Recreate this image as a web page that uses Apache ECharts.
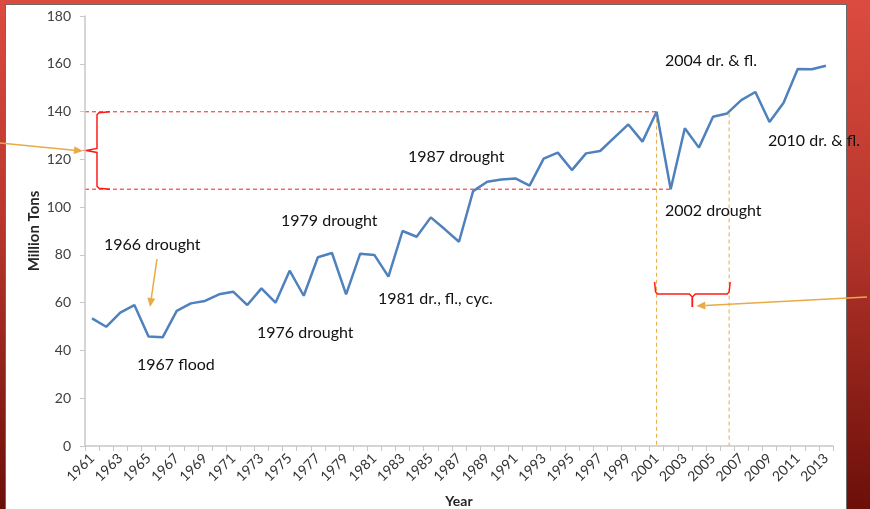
<!DOCTYPE html>
<html>
<head>
<meta charset="utf-8">
<script src="https://cdn.jsdelivr.net/npm/echarts@6/dist/echarts.min.js"></script>
<style>
    html, body { margin: 0; padding: 0; }
    body {
        width: 870px; height: 509px; overflow: hidden; position: relative;
        background: linear-gradient(to bottom, #dc4b3f 0%, #b7362c 45%, #6c0f09 100%);
    }
    #panel {
        position: absolute; left: 5px; top: 4px; width: 840px; height: 510px;
        background: #fff; border: 1px solid #6b6b6b;
    }
    #chart { position: absolute; left: 0; top: 0; width: 870px; height: 509px; }
</style>
</head>
<body>
<div id="panel"></div>
<div id="chart"></div>
<script>
const years = [
    '1961', '1962', '1963', '1964', '1965', '1966', '1967', '1968', '1969', '1970',
    '1971', '1972', '1973', '1974', '1975', '1976', '1977', '1978', '1979', '1980',
    '1981', '1982', '1983', '1984', '1985', '1986', '1987', '1988', '1989', '1990',
    '1991', '1992', '1993', '1994', '1995', '1996', '1997', '1998', '1999', '2000',
    '2001', '2002', '2003', '2004', '2005', '2006', '2007', '2008', '2009', '2010',
    '2011', '2012', '2013'
];
const production = [
    53.4, 49.9, 55.8, 59.0, 45.8, 45.5, 56.6, 59.7, 60.7, 63.5,
    64.6, 59.0, 66.0, 60.0, 73.4, 62.9, 79.0, 80.8, 63.5, 80.5,
    80.0, 70.9, 90.0, 87.6, 95.7, 90.7, 85.5, 106.7, 110.6, 111.6,
    112.0, 109.0, 120.3, 122.8, 115.5, 122.5, 123.5, 129.1, 134.6, 127.4,
    139.9, 107.5, 133.0, 124.9, 137.8, 139.2, 144.8, 148.2, 135.6, 143.7,
    157.8, 157.7, 159.2
];
const yTicks = [0, 20, 40, 60, 80, 100, 120, 140, 160, 180];
const noteTexts = ['1966 drought', '1967 flood', '1976 drought', '1979 drought',
    '1981 dr., fl., cyc.', '1987 drought', '2002 drought', '2004 dr. & fl.', '2010 dr. & fl.'];

const chart = echarts.init(document.getElementById('chart'));
const gridLeft = 85, gridTop = 16, gridRight = 37, gridBottom = 63;
const axisFont = 'Lato, "Liberation Sans", sans-serif';
const noteFont = '16px Lato, "Noto Sans", sans-serif';

chart.setOption({
    animation: false,
    grid: { left: gridLeft, right: gridRight, top: gridTop, bottom: gridBottom, containLabel: false, outerBoundsMode: 'none' },
    xAxis: {
        type: 'category',
        data: years,
        name: 'Year',
        nameLocation: 'middle',
        nameGap: 48,
        nameTextStyle: { fontFamily: axisFont, fontWeight: 'bold', fontSize: 14, color: '#262626' },
        axisLine: { lineStyle: { color: '#c8c8c8', width: 1.5 } },
        axisTick: { show: true, interval: 0, length: 5, lineStyle: { color: '#c8c8c8' } },
        axisLabel: { interval: 1, rotate: 45, fontFamily: axisFont, fontSize: 14, color: '#333', margin: 10 },
        splitLine: { show: false }
    },
    yAxis: {
        type: 'value',
        min: yTicks[0],
        max: yTicks[yTicks.length - 1],
        interval: yTicks[1] - yTicks[0],
        name: 'Million Tons',
        nameLocation: 'middle',
        nameGap: 43,
        nameMoveOverlap: false,
        nameTextStyle: { fontFamily: axisFont, fontWeight: 'bold', fontSize: 15, color: '#262626' },
        axisLine: { show: true, lineStyle: { color: '#c8c8c8', width: 1.5 } },
        axisTick: { show: true, length: 5, lineStyle: { color: '#c8c8c8' } },
        axisLabel: { fontFamily: axisFont, fontSize: 14, color: '#404040', margin: 14 },
        splitLine: { show: false }
    },
    series: [{
        type: 'line',
        data: production,
        showSymbol: false,
        lineStyle: { color: '#4f81bd', width: 2.5 },
        z: 5
    }]
});

// annotations, anchored to the data through the chart's own scales
const pt = (year, value) => chart.convertToPixel({ gridIndex: 0 }, [years.indexOf(year), value]);
const val = (year) => production[years.indexOf(year)];
const p2001 = pt('2001', val('2001'));
const p2002 = pt('2002', val('2002'));
const p2006 = pt('2006', val('2006'));
const base = pt('2001', 0)[1];

const red = '#ff1a1a';
const orange = '#e8ab45';

function arrow(x1, y1, x2, y2) {
    const a = Math.atan2(y2 - y1, x2 - x1);
    const len = 9, w = 4;
    const bx = x2 - len * Math.cos(a), by = y2 - len * Math.sin(a);
    return [
        { type: 'line', shape: { x1: x1, y1: y1, x2: bx, y2: by }, style: { stroke: orange, lineWidth: 1.5 }, silent: true },
        {
            type: 'polygon', silent: true,
            shape: { points: [[x2, y2], [bx + w * Math.sin(a), by - w * Math.cos(a)], [bx - w * Math.sin(a), by + w * Math.cos(a)]] },
            style: { fill: orange }
        }
    ];
}

function note(text, x, y) {
    return { type: 'text', silent: true, style: { text: text, x: x, y: y, font: noteFont, fill: '#111', verticalAlign: 'middle' } };
}

const yTop = p2001[1], yBot = p2002[1], yMid = (yTop + yBot) / 2;
const bx = 97;
const xL = p2001[0] - 1, xR = p2006[0] + 2, xM = (xL + xR) / 2, yB = 294;

const elements = [
    // red dashed guides
    { type: 'line', silent: true, shape: { x1: gridLeft, y1: yTop, x2: p2001[0], y2: yTop }, style: { stroke: red, lineWidth: 1, lineDash: [4, 3] } },
    { type: 'line', silent: true, shape: { x1: gridLeft, y1: yBot, x2: p2002[0] + 2, y2: yBot }, style: { stroke: red, lineWidth: 1, lineDash: [4, 3] } },
    // orange dashed verticals
    { type: 'line', silent: true, shape: { x1: p2001[0], y1: p2001[1], x2: p2001[0], y2: base }, style: { stroke: orange, lineWidth: 1, lineDash: [4, 3] } },
    { type: 'line', silent: true, shape: { x1: p2006[0] + 2, y1: p2006[1], x2: p2006[0] + 2, y2: base }, style: { stroke: orange, lineWidth: 1, lineDash: [4, 3] } },
    // left brace
    {
        type: 'polyline', silent: true,
        shape: { points: [[bx + 13, yTop], [bx + 2, yTop + 1], [bx, yTop + 3], [bx, yMid - 2], [gridLeft + 1, yMid], [bx, yMid + 2], [bx, yBot - 3], [bx + 2, yBot - 1], [bx + 13, yBot]] },
        style: { stroke: red, lineWidth: 1.5, fill: null }
    },
    // bottom brace
    {
        type: 'polyline', silent: true,
        shape: { points: [[xL - 1, yB - 12], [xL, yB - 2], [xL + 2, yB], [xM - 3, yB], [xM, yB + 3], [xM, yB + 13]] },
        style: { stroke: red, lineWidth: 1.5, fill: null }
    },
    {
        type: 'polyline', silent: true,
        shape: { points: [[xM, yB + 13], [xM, yB + 3], [xM + 3, yB], [xR - 2, yB], [xR, yB - 2], [xR + 1, yB - 12]] },
        style: { stroke: red, lineWidth: 1.5, fill: null }
    },
    note(noteTexts[0], 104, 245),
    note(noteTexts[1], 137, 365),
    note(noteTexts[2], 257, 333),
    note(noteTexts[3], 281, 221),
    note(noteTexts[4], 378, 299),
    note(noteTexts[5], 408, 157),
    note(noteTexts[6], 665, 211),
    note(noteTexts[7], 665, 61),
    note(noteTexts[8], 768, 141)
].concat(
    arrow(0, 143, gridLeft - 2, 151),
    arrow(867, 297, xM + 4, 306),
    arrow(157, 259, 150, 307)
);

chart.setOption({ graphic: elements });
</script>
</body>
</html>
